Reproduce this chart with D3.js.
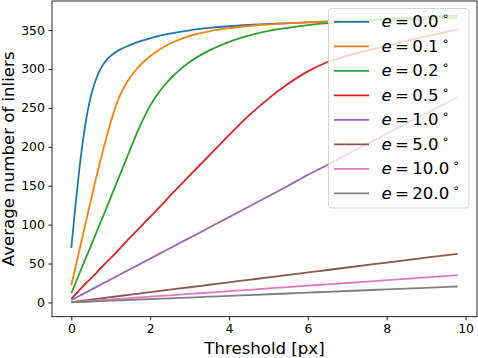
<!DOCTYPE html>
<html lang="en">
<head>
    <meta charset="UTF-8">
    <title>Average number of inliers vs threshold</title>
    <script src="https://d3js.org/d3.v7.min.js"></script>
    <style>
        body {
            margin: 0;
            background: #fff;
            font-family: "DejaVu Sans", sans-serif;
        }
        svg {
            display: block;
        }
    </style>
</head>
<body>

    <div id="chart"></div>

    <script>
        const thresholds = [0, 0.1, 0.2, 0.3, 0.4, 0.5, 0.6, 0.7, 0.8, 0.9, 1, 1.2, 1.4, 1.6, 1.8, 2,
            2.25, 2.5, 2.75, 3, 3.5, 4, 4.5, 5, 5.5, 6, 6.5, 7, 8, 9, 9.8];

        const e00 = [70, 122, 170, 210, 242, 266, 283, 296, 305, 312, 317, 324, 329, 333, 336.5, 339.5,
            342.8, 345.5, 347.8, 349.8, 352.8, 355, 356.6, 357.9, 359, 360, 360.9, 361.7, 363.2, 364.6, 365.7];
        const e01 = [22, 44, 66, 88, 110, 132, 154, 175, 195, 214, 232, 262, 282, 296.5, 307.5, 316.5,
            325.5, 332.5, 338, 342.5, 348.5, 352.5, 355.3, 357.3, 358.8, 360, 361.1, 362.1, 363.8, 365.4, 366.6];
        const e02 = [12, 24, 36.5, 49, 61, 73, 85.5, 98, 110, 122.5, 135, 160, 185, 210, 233, 253,
            272, 287, 299, 309, 324, 335, 343, 349, 353, 356.5, 359, 361, 364.5, 367, 369];
        const e05 = [5, 10, 15.5, 21, 26, 31, 36, 41.5, 47, 52, 57, 67.5, 78.5, 89, 99.5, 110,
            123, 137, 150, 163, 189, 215, 240, 262, 281, 297, 309, 317, 330, 342, 351];
        const e10 = [3, 5.7, 8.3, 11, 13.6, 16.3, 19, 21.6, 24.3, 27, 29.6, 35, 40.3, 45.6, 51, 56.3,
            63, 69.6, 76.3, 83, 96.3, 109.6, 123, 136.5, 150, 164, 177, 190.5, 217, 243, 264];
        const e50 = [0.5, 1.1, 1.8, 2.4, 3, 3.7, 4.3, 4.9, 5.6, 6.2, 6.8, 8.1, 9.4, 10.6, 11.9, 13.2,
            14.8, 16.4, 18, 19.5, 22.7, 25.9, 29, 32.2, 35.4, 38.5, 41.7, 44.9, 51.2, 57.5, 62.5];
        const e100 = [0.3, 0.65, 1, 1.4, 1.7, 2.1, 2.4, 2.8, 3.1, 3.5, 3.8, 4.5, 5.3, 6, 6.7, 7.4,
            8.3, 9.1, 10, 10.9, 12.7, 14.5, 16.2, 18, 19.8, 21.5, 23.3, 25, 28.6, 32.1, 35];
        const e200 = [0.1, 0.3, 0.5, 0.7, 0.9, 1.1, 1.3, 1.6, 1.8, 2, 2.2, 2.6, 3, 3.4, 3.8, 4.3,
            4.8, 5.3, 5.8, 6.3, 7.4, 8.4, 9.5, 10.5, 11.5, 12.6, 13.6, 14.7, 16.8, 18.8, 20.5];

        const errors = ["0.0", "0.1", "0.2", "0.5", "1.0", "5.0", "10.0", "20.0"];
        const seriesValues = [e00, e01, e02, e05, e10, e50, e100, e200];

        const xTicks = [0, 2, 4, 6, 8, 10];
        const yTicks = [0, 50, 100, 150, 200, 250, 300, 350];

        const colors = ["#1f77b4", "#ff7f0e", "#2ca02c", "#d62728", "#9467bd", "#8c564b", "#e377c2", "#7f7f7f"];

        const width = 478;
        const height = 358;
        const margin = { top: 1, right: 1, bottom: 41.3, left: 52 };
        const plotW = width - margin.left - margin.right;
        const plotH = height - margin.top - margin.bottom;

        const series = errors.map((e, i) => ({
            label: e,
            color: colors[i],
            points: thresholds.map((t, j) => [t, seriesValues[i][j]])
        }));

        // matplotlib style 5% padding around the data
        const allY = seriesValues.flat();
        const xMin = d3.min(thresholds), xMax = d3.max(thresholds);
        const yMin = d3.min(allY), yMax = d3.max(allY);
        const xPad = (xMax - xMin) * 0.05, yPad = (yMax - yMin) * 0.05;

        const x = d3.scaleLinear()
            .domain([xMin - xPad, xMax + xPad])
            .range([0, plotW]);

        const y = d3.scaleLinear()
            .domain([yMin - yPad, yMax + yPad])
            .range([plotH, 0]);

        const svg = d3.select("#chart")
            .append("svg")
            .attr("width", width)
            .attr("height", height);

        const g = svg.append("g")
            .attr("transform", `translate(${margin.left},${margin.top})`);

        // lines
        const line = d3.line()
            .x(d => x(d[0]))
            .y(d => y(d[1]))
            .curve(d3.curveMonotoneX);

        g.append("defs").append("clipPath")
            .attr("id", "clip")
            .append("rect")
            .attr("width", plotW)
            .attr("height", plotH);

        g.append("g")
            .attr("clip-path", "url(#clip)")
            .selectAll("path")
            .data(series)
            .enter()
            .append("path")
            .attr("d", d => line(d.points))
            .attr("fill", "none")
            .attr("stroke", d => d.color)
            .attr("stroke-width", 1.8)
            .attr("stroke-linejoin", "round")
            .attr("stroke-linecap", "butt");

        // axes
        const xAxis = g.append("g")
            .attr("transform", `translate(0,${plotH})`)
            .call(d3.axisBottom(x).tickValues(xTicks).tickFormat(d3.format("d")).tickSize(3.6).tickPadding(3.6));

        const yAxis = g.append("g")
            .call(d3.axisLeft(y).tickValues(yTicks).tickFormat(d3.format("d")).tickSize(3.6).tickPadding(3.6));

        [xAxis, yAxis].forEach(a => {
            a.select(".domain").remove();
            a.selectAll("line").attr("stroke", "#000").attr("stroke-width", 0.85);
            a.selectAll("text")
                .attr("fill", "#000")
                .style("font-family", "'DejaVu Sans', sans-serif")
                .style("font-size", "12.4px");
        });

        // spines
        g.append("rect")
            .attr("width", plotW)
            .attr("height", plotH)
            .attr("fill", "none")
            .attr("stroke", "#000")
            .attr("stroke-width", 0.85);

        // axis labels
        svg.append("text")
            .attr("x", margin.left + plotW / 2)
            .attr("y", 354)
            .attr("text-anchor", "middle")
            .style("font-size", "16.6px")
            .text("Threshold [px]");

        svg.append("text")
            .attr("transform", `translate(13.5,${margin.top + plotH / 2}) rotate(-90)`)
            .attr("text-anchor", "middle")
            .style("font-size", "16.6px")
            .text("Average number of inliers");

        // legend
        const legend = svg.append("g")
            .attr("transform", "translate(328.5,8.5)");

        legend.append("rect")
            .attr("width", 140.5)
            .attr("height", 199.5)
            .attr("rx", 3)
            .attr("fill", "#fff")
            .attr("fill-opacity", 0.8)
            .attr("stroke", "#d0d0d0")
            .attr("stroke-width", 0.9);

        const rows = legend.selectAll("g.row")
            .data(series)
            .enter()
            .append("g")
            .attr("class", "row")
            .attr("transform", (_, i) => `translate(0,${13.3 + i * 24.5})`);

        rows.append("line")
            .attr("x1", 5.5)
            .attr("x2", 40.5)
            .attr("stroke", d => d.color)
            .attr("stroke-width", 1.8);

        const labels = rows.append("text")
            .attr("x", 53)
            .attr("y", 5.6)
            .style("font-size", "16.6px");

        labels.append("tspan").style("font-style", "italic").text("e");
        labels.append("tspan").text(d => "\u2009=\u2009" + d.label);
        labels.append("tspan")
            .attr("dx", 3)
            .attr("dy", -7)
            .style("font-size", "11.5px")
            .text("\u2218");
    </script>

</body>
</html>
